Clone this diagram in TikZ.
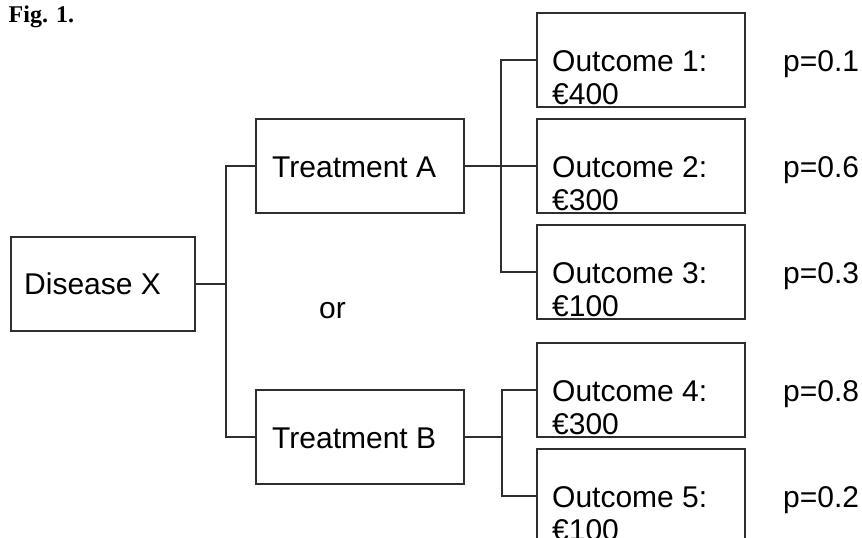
\documentclass[tikz,border=0pt]{standalone}
\usepackage{fontspec}
\setmainfont{Liberation Sans}
\newfontfamily\figfont{Liberation Serif}
\usetikzlibrary{calc}
\begin{document}
\begin{tikzpicture}[x=1pt,y=-1pt,
  box/.style={draw=black!82,line width=1.8pt,rectangle,inner sep=0pt,minimum height=94pt,anchor=north west},
  lbl/.style={anchor=base west,inner sep=0pt,font=\fontsize{30}{33}\selectfont,text=black},
  conn/.style={draw=black!82,line width=1.8pt}]
\clip (0,0) rectangle (862,538);
\node[anchor=base west,inner sep=0pt,font=\figfont\bfseries\fontsize{24}{28}\selectfont] (fig) at (8.5,22) {Fig. 1.};
% boxes
\node[box,minimum width=184pt] (dx) at (10,236) {};
\node[box,minimum width=208pt] (ta) at (255,118) {};
\node[box,minimum width=208pt] (tb) at (255,389) {};
\node[box,minimum width=208pt] (o1) at (536,12) {};
\node[box,minimum width=208pt] (o2) at (536,118) {};
\node[box,minimum width=208pt] (o3) at (536,224) {};
\node[box,minimum width=208pt] (o4) at (536,342) {};
\node[box,minimum width=208pt] (o5) at (536,448) {};
% texts
\node[lbl] (dxt) at (24,294) {Disease X};
\node[lbl] (tat) at (272,177) {Treatment A};
\node[lbl] (tbt) at (272,448) {Treatment B};
\node[lbl] (ort) at (319,318) {or};
\foreach \n/\t/\v/\p in {1/12/400/0.1,2/118/300/0.6,3/224/100/0.3,4/342/300/0.8,5/448/100/0.2}{
  \node[lbl] (o\n a) at (552,\t+59) {Outcome \n:};
  \node[lbl] (o\n b) at (552,\t+92) {€\v};
  \node[lbl] (p\n) at (783,\t+59) {p=\p};
}
% connectors
\coordinate (j1) at ($(dx.east)+(30,0)$);
\coordinate (ja) at ($(ta.east)+(36,0)$);
\coordinate (jb) at ($(tb.east)+(37,0)$);
\draw[conn] (dx.east) -- (j1);
\draw[conn] (ta.west) -| (j1) |- (tb.west);
\draw[conn] (ta.east) -- (o2.west);
\draw[conn] (o1.west) -| (ja) |- (o3.west);
\draw[conn] (tb.east) -- (jb);
\draw[conn] (o4.west) -| (jb) |- (o5.west);
\end{tikzpicture}
\end{document}
